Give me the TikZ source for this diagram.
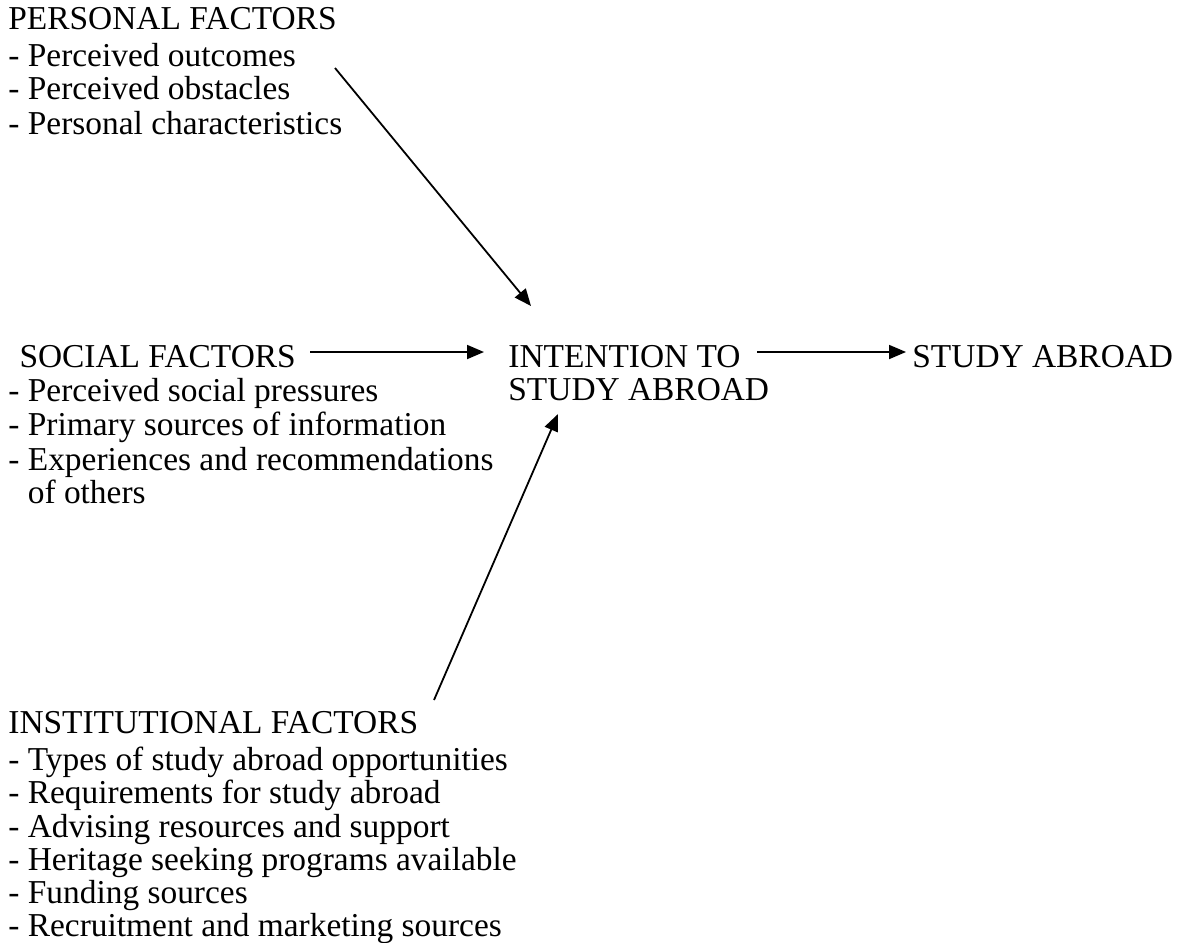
\documentclass[tikz,border=0pt]{standalone}
\usepackage{fontspec}
\setmainfont{Liberation Serif}
\usetikzlibrary{arrows.meta}
\tikzset{
  block/.style={anchor=north west, inner sep=0pt, align=left, font=\fontsize{16.7}{16.6}\selectfont},
  arr/.style={line width=0.9pt, -{Triangle[length=8.5pt,width=7pt]}}
}
\begin{document}
\begin{tikzpicture}[x=0.5pt,y=-0.5pt]
\useasboundingbox (0,0) rectangle (1181,942);
\node[block] (personal) at (8,7) {PERSONAL FACTORS\\[2pt]- Perceived outcomes\\- Perceived obstacles\\[0.5pt]- Personal characteristics};
\node[block] (social) at (8,345) {\phantom{-}SOCIAL FACTORS\\[0.5pt]- Perceived social pressures\\[0.5pt]- Primary sources of information\\[0.5pt]- Experiences and recommendations\\\phantom{- }of others};
\node[block] (intent) at (508,345) {INTENTION TO\\STUDY ABROAD};
\node[block] (study) at (912,345) {STUDY ABROAD};
\node[block] (inst) at (8,711) {INSTITUTIONAL FACTORS\\[2pt]- Types of study abroad opportunities\\- Requirements for study abroad\\- Advising resources and support\\- Heritage seeking programs available\\- Funding sources\\- Recruitment and marketing sources};
\coordinate (p1) at (335,68);
\coordinate (p2) at (531,306);
\coordinate (s1) at (310,352);
\coordinate (s2) at (484,352);
\coordinate (t1) at (757,352);
\coordinate (t2) at (906,352);
\coordinate (i1) at (434,700);
\coordinate (i2) at (558,414);
\draw[arr] (p1) -- (p2);
\draw[arr] (s1) -- (s2);
\draw[arr] (t1) -- (t2);
\draw[arr] (i1) -- (i2);
\end{tikzpicture}
\end{document}
